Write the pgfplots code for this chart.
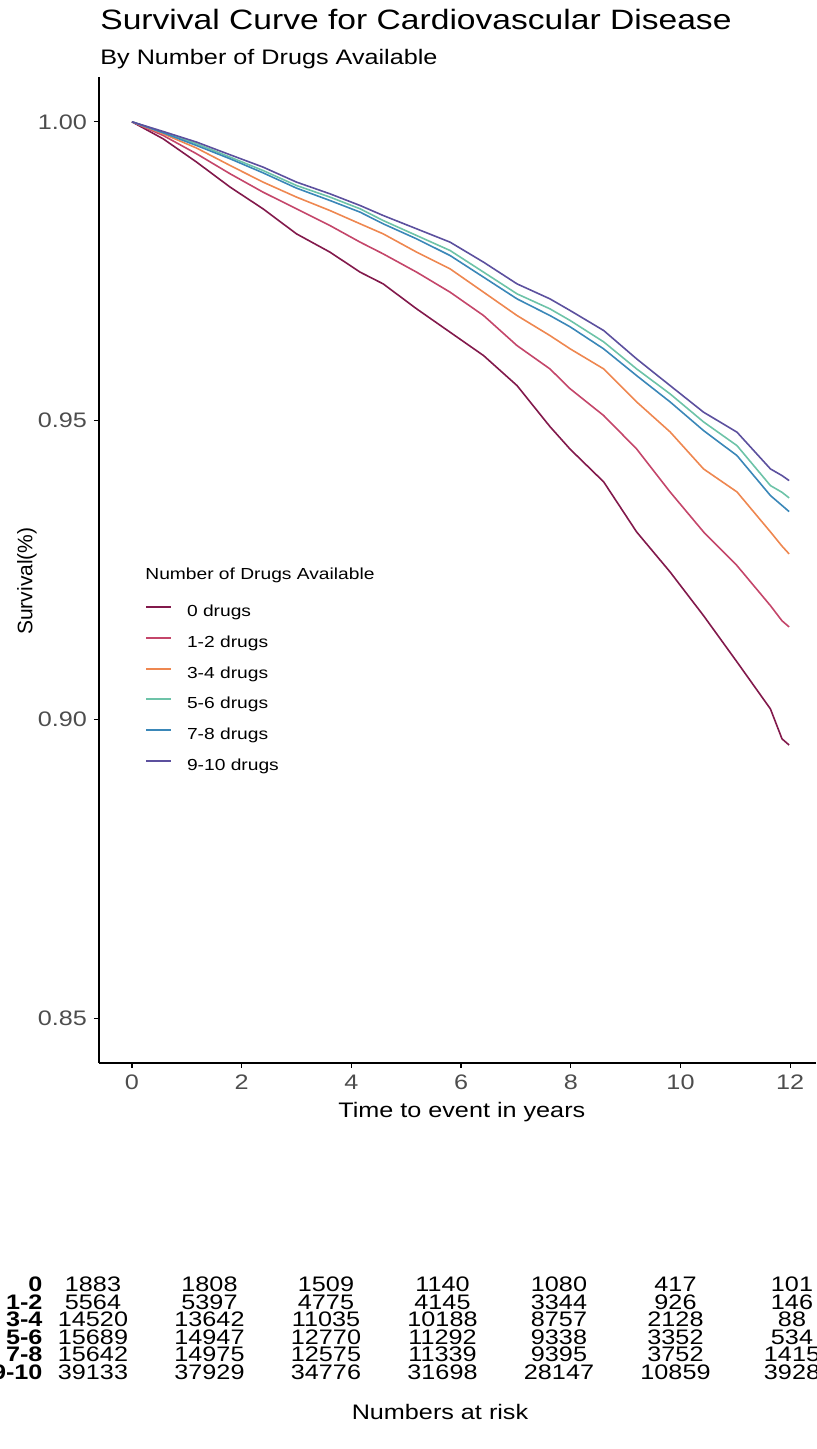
\documentclass[border=0pt]{standalone}
\usepackage{fontspec}
\setmainfont{Liberation Sans}[FakeStretch=1.2]
\newfontfamily\plainsans{Liberation Sans}
\usepackage{pgfplots}
\pgfplotsset{compat=1.18}
\usepackage{pgfplotstable}

\definecolor{cZero}{RGB}{130,25,75}
\definecolor{cOneTwo}{RGB}{196,70,106}
\definecolor{cThreeFour}{RGB}{238,135,80}
\definecolor{cFiveSix}{RGB}{109,195,168}
\definecolor{cSevenEight}{RGB}{58,135,184}
\definecolor{cNineTen}{RGB}{92,80,158}
\definecolor{ticktext}{RGB}{77,77,77}

% survival estimates
\pgfplotstableread{
t     s0      s12     s34     s56     s78     s910
0     1.00000 1.00000 1.00000 1.00000 1.00000 1.00000
0.57  0.99715 0.99771 0.99799 0.99827 0.99816 0.99838
1.18  0.99325 0.99464 0.99560 0.99632 0.99603 0.99660
1.79  0.98907 0.99130 0.99269 0.99409 0.99381 0.99448
2.39  0.98544 0.98823 0.98991 0.99185 0.99146 0.99242
3.00  0.98125 0.98544 0.98740 0.98934 0.98890 0.98991
3.61  0.97819 0.98264 0.98515 0.98740 0.98683 0.98795
4.16  0.97484 0.97986 0.98293 0.98544 0.98488 0.98599
4.58  0.97288 0.97790 0.98125 0.98348 0.98293 0.98432
5.19  0.96870 0.97484 0.97819 0.98097 0.98041 0.98209
5.80  0.96479 0.97149 0.97539 0.97846 0.97762 0.97986
6.41  0.96088 0.96758 0.97149 0.97484 0.97400 0.97651
7.02  0.95586 0.96255 0.96758 0.97121 0.97037 0.97288
7.62  0.94900 0.95865 0.96423 0.96870 0.96758 0.97037
7.99  0.94520 0.95531 0.96200 0.96674 0.96568 0.96841
8.60  0.93974 0.95084 0.95865 0.96317 0.96200 0.96507
9.20  0.93137 0.94526 0.95313 0.95865 0.95753 0.96033
9.81  0.92467 0.93806 0.94811 0.95447 0.95313 0.95586
10.42 0.91736 0.93137 0.94191 0.94978 0.94833 0.95141
11.03 0.90961 0.92573 0.93806 0.94581 0.94414 0.94806
11.64 0.90174 0.91903 0.93137 0.93912 0.93745 0.94191
11.85 0.89675 0.91650 0.92900 0.93800 0.93580 0.94080
11.98 0.89570 0.91547 0.92769 0.93706 0.93477 0.93996
}\surv

% numbers at risk: time, row (5 = top), count
\pgfplotstableread{
t r n
0 5 1883
2 5 1808
4 5 1509
6 5 1140
8 5 1080
10 5 417
12 5 101
0 4 5564
2 4 5397
4 4 4775
6 4 4145
8 4 3344
10 4 926
12 4 146
0 3 14520
2 3 13642
4 3 11035
6 3 10188
8 3 8757
10 3 2128
12 3 88
0 2 15689
2 2 14947
4 2 12770
6 2 11292
8 2 9338
10 2 3352
12 2 534
0 1 15642
2 1 14975
4 1 12575
6 1 11339
8 1 9395
10 1 3752
12 1 1415
0 0 39133
2 0 37929
4 0 34776
6 0 31698
8 0 28147
10 0 10859
12 0 3928
}\risk

\pgfplotstableread{
t r lab
-0.86 5 0
-0.86 4 1-2
-0.86 3 3-4
-0.86 2 5-6
-0.86 1 7-8
-0.86 0 9-10
}\risklab

\begin{document}
\begin{tikzpicture}
\begin{axis}[
  name=main,
  at={(0pt,0pt)}, anchor=south west,
  scale only axis,
  width=358.5pt, height=493pt,
  xmin=-0.6, xmax=12.47,
  ymin=0.8425, ymax=1.0075,
  axis x line*=bottom, axis y line*=left,
  axis line style={-, line width=0.7pt, black},
  xtick={0,2,4,6,8,10,12},
  ytick={0.85,0.90,0.95,1.00},
  tick align=outside,
  major tick length=2.5pt,
  tick style={line width=0.6pt, black},
  minor tick num=0,
  /pgf/number format/assume math mode=true,
  ticklabel style={font=\fontsize{10.5}{12}\selectfont, text=ticktext},
  yticklabel style={/pgf/number format/.cd, fixed, fixed zerofill, precision=2},
  xlabel={Time to event in years},
  xlabel style={font=\fontsize{10.5}{12}\selectfont, at={(axis description cs:0.506,-0.05)}, anchor=center},
  ylabel={\plainsans Survival(\%)},
  ylabel style={font=\fontsize{10.5}{12}\selectfont, at={(axis description cs:-0.1004,0.4888)}, anchor=center},
  legend style={
    at={(axis description cs:0.0642,0.4650)}, anchor=north west,
    draw=none, fill=none, inner sep=0pt, outer sep=0pt,
    font=\fontsize{8}{9.6}\selectfont,
    row sep=7.9pt,
    nodes={inner sep=0pt, text height=6pt, text depth=1.5pt},
    /tikz/every odd column/.append style={column sep=7.5pt},
  },
  legend cell align=left,
  legend image code/.code={\draw[#1, line width=1pt] (0pt,2.5pt) -- (12.5pt,2.5pt);},
  every axis plot/.append style={line width=0.8pt},
]
\addplot[cZero, no marks] table[x=t, y=s0] {\surv};
\addlegendentry{0 drugs}
\addplot[cOneTwo, no marks] table[x=t, y=s12] {\surv};
\addlegendentry{1-2 drugs}
\addplot[cThreeFour, no marks] table[x=t, y=s34] {\surv};
\addlegendentry{3-4 drugs}
\addplot[cFiveSix, no marks] table[x=t, y=s56] {\surv};
\addlegendentry{5-6 drugs}
\addplot[cSevenEight, no marks] table[x=t, y=s78] {\surv};
\addlegendentry{7-8 drugs}
\addplot[cNineTen, no marks] table[x=t, y=s910] {\surv};
\addlegendentry{9-10 drugs}
\end{axis}

\node[anchor=base west, inner sep=0pt, font=\fontsize{8}{9.6}\selectfont] at (23pt,241.5pt) {Number of Drugs Available};
\node[anchor=base west, inner sep=0pt, font=\fontsize{14}{16}\selectfont] at (0.5pt,516.5pt) {Survival Curve for Cardiovascular Disease};
\node[anchor=base west, inner sep=0pt, font=\fontsize{10.5}{12}\selectfont] at (0.5pt,499pt) {By Number of Drugs Available};

\begin{axis}[
  name=risk,
  at={(-32.125pt,-109.85pt)}, anchor=north west,
  scale only axis,
  width=407.75pt, height=52.8pt,
  xmin=-1, xmax=13, ymin=-0.5, ymax=5.5,
  axis lines=none, ticks=none, clip=false,
]
\addplot[draw=none, nodes near coords, point meta=explicit symbolic,
  nodes near coords style={anchor=base, inner sep=0pt, font=\fontsize{10.5}{12}\selectfont}]
  table[x=t, y=r, meta=n] {\risk};
\addplot[draw=none, nodes near coords, point meta=explicit symbolic,
  nodes near coords style={anchor=base east, inner sep=0pt, font=\fontsize{10.5}{12}\selectfont\bfseries}]
  table[x=t, y=r, meta=lab] {\risklab};
\end{axis}

\node[anchor=base, inner sep=0pt, font=\fontsize{10.5}{12}\selectfont] at (170.5pt,-178pt) {Numbers at risk};

\pgfresetboundingbox
\useasboundingbox (-49.5pt,-193pt) rectangle (358.5pt,531.5pt);
\end{tikzpicture}
\end{document}
